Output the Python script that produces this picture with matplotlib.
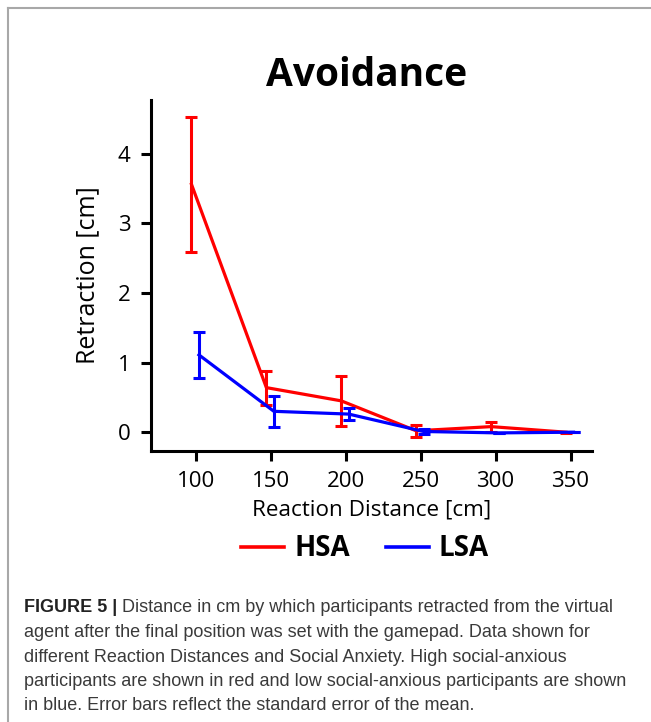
import matplotlib
matplotlib.use("Agg")
import matplotlib.pyplot as plt
from matplotlib.lines import Line2D

# data
distances = [100, 150, 200, 250, 300, 350]
hsa_mean = [3.56, 0.64, 0.45, 0.02, 0.08, 0.00]
hsa_err = [0.97, 0.245, 0.36, 0.085, 0.07, 0.01]
lsa_mean = [1.11, 0.30, 0.26, 0.01, -0.01, 0.00]
lsa_err = [0.335, 0.22, 0.085, 0.03, 0.005, 0.0]
groups = ["HSA", "LSA"]
colors = ['#ff0000', '#0000ff']
caption_lines = [
    "Distance in cm by which participants retracted from the virtual",
    "agent after the final position was set with the gamepad. Data shown for",
    "different Reaction Distances and Social Anxiety. High social-anxious",
    "participants are shown in red and low social-anxious participants are shown",
    "in blue. Error bars reflect the standard error of the mean.",
]

W, H = 651, 722
fig = plt.figure(figsize=(W / 100, H / 100), dpi=100)
plt.rcParams['font.family'] = ['Open Sans', 'DejaVu Sans']

ax = fig.add_axes([151 / W, 1 - 451 / H, (591.5 - 151) / W, (451 - 100) / H])

# small horizontal dodge between the groups, like the original
red_x = [d - 3 for d in distances]
blue_x = [d + 2 for d in distances]

ax.errorbar(red_x, hsa_mean, yerr=hsa_err, color=colors[0], lw=2.3,
            elinewidth=2.2, capsize=4.5, capthick=2.2, zorder=3)
ax.errorbar(blue_x, lsa_mean, yerr=lsa_err, color=colors[1], lw=2.3,
            elinewidth=2.2, capsize=4.5, capthick=2.2, zorder=4)

ax.set_xlim(70, 364)
ax.set_ylim(-0.27, 4.77)
ax.set_xticks(distances)
ax.set_yticks([0, 1, 2, 3, 4])
for s in ['top', 'right']:
    ax.spines[s].set_visible(False)
for s in ['left', 'bottom']:
    ax.spines[s].set_linewidth(2.2)
ax.tick_params(width=2.2, length=7.2, labelsize=16, colors='black', pad=7.5)
ax.set_xlabel('Reaction Distance [cm]', fontsize=16.2, labelpad=5)
ax.set_ylabel('Retraction [cm]', fontsize=18, labelpad=13)

fig.text(367 / W, 1 - 75 / H, 'Avoidance', fontsize=28, fontweight='bold',
         ha='center', va='center')

handles = [Line2D([], [], color=c, lw=2.6) for c in colors]
fig.legend(handles, groups, loc='center', bbox_to_anchor=(365 / W, 1 - 549 / H),
           ncol=2, frameon=False, handlelength=1.55, handletextpad=0.35,
           columnspacing=1.3, prop={'weight': 'bold', 'size': 20})

# page frame (only top and left edges are visible in the crop)
fig.add_artist(Line2D([8 / W, 1], [1 - 8 / H, 1 - 8 / H], color='#a8a8a8', lw=1.5))
fig.add_artist(Line2D([8 / W, 8 / W], [0, 1 - 8 / H], color='#a8a8a8', lw=1.5))

# caption
cap_font = ['Liberation Sans', 'DejaVu Sans']
cap_size = 13
y0 = 608
for i, line in enumerate(caption_lines):
    y = 1 - (y0 + i * 24.5) / H
    if i == 0:
        t = fig.text(24 / W, y, 'FIGURE 5 |', fontsize=cap_size, fontweight='bold',
                     color='#222222', family=cap_font, va='center')
        fig.add_artist(plt.Annotation(' ' + line, xy=(1, 0), xycoords=t,
                                      fontsize=cap_size, color='#3a3a3a',
                                      family=cap_font, va='bottom', ha='left',
                                      annotation_clip=False))
    else:
        fig.text(24 / W, y, line, fontsize=cap_size, color='#3a3a3a',
                 family=cap_font, va='center')

fig.savefig('out.png', dpi=100)
